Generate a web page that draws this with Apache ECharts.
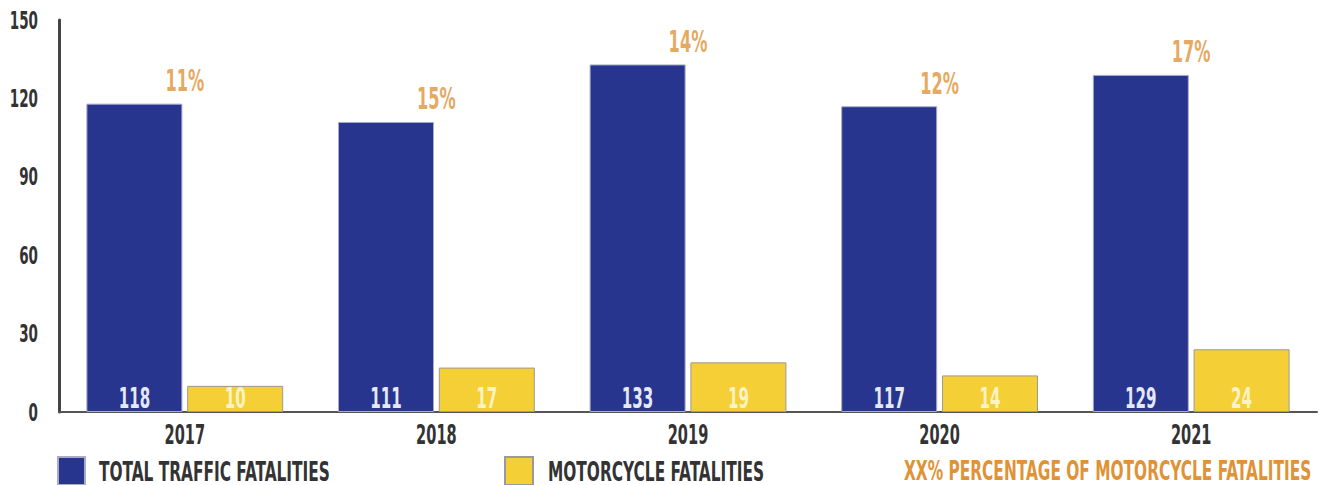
<!DOCTYPE html>
<html>
<head>
<meta charset="utf-8">
<script src="https://cdn.jsdelivr.net/npm/echarts@6/dist/echarts.min.js"></script>
<style>
  html, body { margin: 0; padding: 0; background: #fff; }
  #chart { width: 1324px; height: 485px; }
</style>
</head>
<body>
<div id="chart"></div>
<script>
// Fatalities per year
const years = ['2017', '2018', '2019', '2020', '2021'];
const totalFatalities = [118, 111, 133, 117, 129];
const motorcycleFatalities = [10, 17, 19, 14, 24];
const motorcycleShare = ['11%', '15%', '14%', '12%', '17%'];
const yTicks = [0, 30, 60, 90, 120, 150];

const FONT = '"DejaVu Sans Condensed", "DejaVu Sans", sans-serif';
const BLUE = '#27358f';
const YELLOW = '#f5cf36';
const ORANGE = '#df9236';
const INK = '#333333';

const nameTotal = 'TOTAL TRAFFIC FATALITIES';
const nameMoto = 'MOTORCYCLE FATALITIES';
const nameShare = 'XX% PERCENTAGE OF MOTORCYCLE FATALITIES';

// horizontal squeeze applied to the labels, giving a narrow display-face look
const CONDENSE = 0.6;
const CONDENSE_LEGEND = 0.633;
const legendNames = [nameTotal, nameMoto, nameShare];

const el = document.getElementById('chart');
const chart = echarts.init(el, null, { renderer: 'svg' });

const legendText = { fontFamily: FONT, fontSize: 27, fontWeight: 'bold', color: INK };

chart.setOption({
  animation: false,
  grid: { left: 59, right: 7, top: 20, bottom: 73, outerBoundsMode: 'none', containLabel: false },
  legend: [
    {
      data: [nameTotal], left: 57, top: 456, padding: 0, icon: 'rect',
      itemWidth: 27, itemHeight: 28, selectedMode: false,
      textStyle: Object.assign({ padding: [0, 0, 0, 9] }, legendText)
    },
    {
      data: [nameMoto], left: 504, top: 456, padding: 0, icon: 'rect',
      itemWidth: 28, itemHeight: 28, selectedMode: false,
      textStyle: Object.assign({ padding: [0, 0, 0, 10] }, legendText)
    },
    {
      data: [{ name: nameShare, icon: 'none' }], left: 899, top: 456, padding: 0,
      itemWidth: 0, itemHeight: 28, selectedMode: false,
      textStyle: Object.assign({}, legendText, { color: ORANGE, width: 412, overflow: 'none' })
    }
  ],
  xAxis: {
    type: 'category',
    data: years,
    axisLine: { show: true, lineStyle: { color: '#555', width: 2 } },
    axisTick: { show: false },
    axisLabel: { fontFamily: FONT, fontSize: 27, fontWeight: 'bold', color: INK, margin: 9 }
  },
  yAxis: {
    type: 'value',
    min: yTicks[0],
    max: yTicks[yTicks.length - 1],
    interval: yTicks[1] - yTicks[0],
    splitLine: { show: false },
    axisLine: { show: true, lineStyle: { color: '#444', width: 3 } },
    axisTick: { show: false },
    axisLabel: {
      fontFamily: FONT, fontSize: 25, fontWeight: 'bold', color: INK, margin: 21,
      padding: [6, 0, 0, 0]
    }
  },
  series: [
    {
      name: nameTotal,
      type: 'bar',
      data: totalFatalities,
      barWidth: 96,
      barGap: '5%',
      itemStyle: { color: BLUE, borderColor: '#a9acc4', borderWidth: 1 },
      label: {
        show: true, position: 'insideBottom', distance: 0,
        fontFamily: FONT, fontSize: 28, fontWeight: 'bold', color: '#e6e8f6'
      }
    },
    {
      name: nameMoto,
      type: 'bar',
      data: motorcycleFatalities,
      barWidth: 96,
      itemStyle: { color: YELLOW, borderColor: '#9a9a9a', borderWidth: 1 },
      label: {
        show: true, position: 'insideBottom', distance: 0,
        fontFamily: FONT, fontSize: 28, fontWeight: 'bold', color: '#fdf3c4'
      }
    },
    {
      // share label sits above each total bar, centred on the year
      name: nameShare,
      type: 'scatter',
      data: totalFatalities,
      symbolSize: 0,
      silent: true,
      itemStyle: { color: ORANGE },
      label: {
        show: true, position: 'top', distance: 8,
        fontFamily: FONT, fontSize: 30, fontWeight: 'bold', color: ORANGE,
        formatter: p => motorcycleShare[p.dataIndex]
      }
    }
  ]
});

// squeeze each svg text to a fraction of its natural advance width
function condenseTexts() {
  el.querySelectorAll('svg text').forEach(t => {
    t.removeAttribute('textLength');
    t.removeAttribute('lengthAdjust');
    const w = t.getComputedTextLength();
    if (w > 0) {
      const k = legendNames.includes(t.textContent.trim()) ? CONDENSE_LEGEND : CONDENSE;
      t.setAttribute('lengthAdjust', 'spacingAndGlyphs');
      t.setAttribute('textLength', (w * k).toFixed(2));
    }
  });
}
chart.on('finished', condenseTexts);
condenseTexts();
</script>
</body>
</html>
